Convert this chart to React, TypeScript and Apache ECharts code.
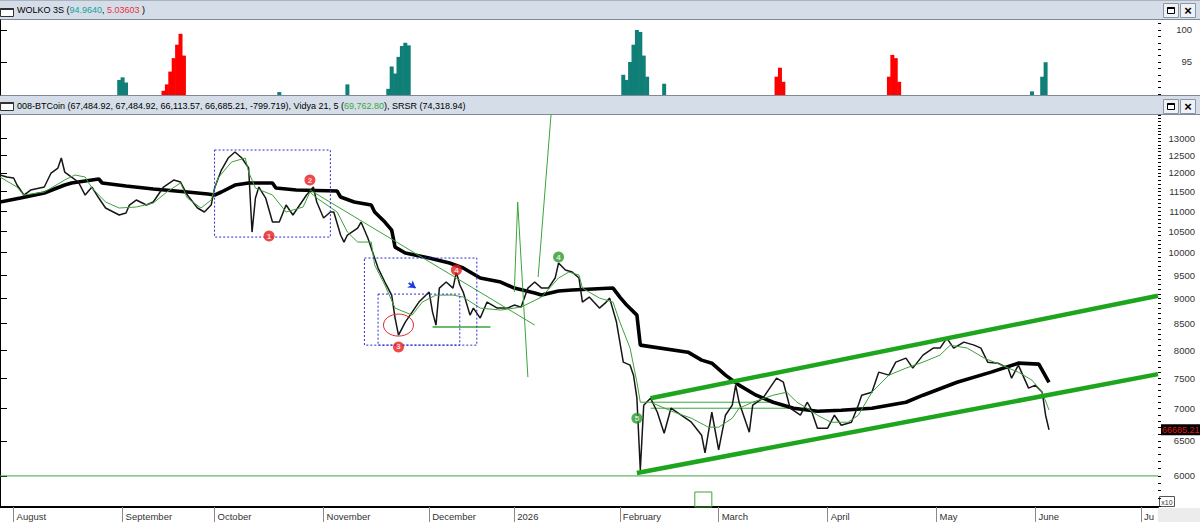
import React, { useEffect, useRef } from "react";
import * as echarts from "echarts";

// ---------- data (bar index = one trading bar) ----------
const X_MAX = 340;
const MONTH_LABELS = ["August", "September", "October", "November", "December", "2026", "February", "March", "April", "May", "June", "Ju"];
const MONTH_BARS = [4, 36, 63, 95, 126, 151, 182, 211, 243, 275, 304, 335];

const PRICE_TICKS = [6000, 6500, 7000, 7500, 8000, 8500, 9000, 9500, 10000, 10500, 11000, 11500, 12000, 12500, 13000];
const WOLKO_TICKS = [95, 100];

// close path [bar, price/10]
const PRICE: number[][] = [
  [0, 11945], [2, 11890], [4, 11863], [5, 11674], [7, 11410], [9, 11541], [13, 11621], [15, 11999], [17, 12137], [18, 12418],
  [19, 12026], [21, 11890], [23, 11755], [25, 11410], [27, 11621], [29, 11332], [31, 11076], [35, 10900], [37, 10950], [38, 11152],
  [40, 11280], [43, 11152], [45, 11229], [48, 11621], [51, 11809], [53, 11755], [55, 11410], [58, 11076], [60, 10975], [62, 11152],
  [63, 11594], [65, 12082], [67, 12418], [69, 12590], [71, 12418], [73, 12137], [74, 10483], [75, 11332], [76, 11621], [78, 11332],
  [80, 10726], [82, 10726], [84, 11152], [86, 10900], [88, 11152], [90, 11410], [92, 11621], [93, 11229], [95, 10825], [97, 10975],
  [98, 10975], [100, 10412], [101, 10246], [102, 10412], [105, 10580], [106, 10726], [108, 10340], [110, 9878], [111, 9654], [113, 9350],
  [115, 9075], [116, 8610], [117, 8281], [119, 8532], [121, 8729], [123, 8931], [126, 9138], [127, 8729], [128, 8473], [129, 9222],
  [131, 9350], [133, 9222], [134, 9566], [135, 9286], [136, 9138], [138, 8669], [139, 8809], [141, 8610], [143, 8931], [146, 8809],
  [149, 8809], [151, 8870], [153, 8829], [155, 9222], [157, 9350], [159, 9222], [161, 9222], [163, 9436], [164, 9766], [166, 9610],
  [168, 9566], [170, 9436], [171, 8931], [173, 9034], [176, 8809], [178, 8931], [179, 9013], [181, 8532], [182, 8149], [183, 7784],
  [185, 7731], [186, 7556], [187, 7168], [188, 6082], [189, 7054], [191, 7168], [193, 6941], [195, 6615], [197, 7005], [200, 6894],
  [203, 6784], [206, 6585], [207, 6324], [209, 6941], [211, 6368], [213, 6894], [215, 7054], [216, 7385], [217, 7102], [220, 6631],
  [221, 7054], [224, 7168], [228, 7504], [230, 7435], [232, 7005], [235, 6894], [237, 7102], [238, 7005], [240, 6692], [243, 6692],
  [245, 6894], [247, 6738], [250, 6784], [252, 7054], [253, 7217], [256, 7267], [258, 7608], [261, 7556], [263, 7784], [266, 7856],
  [268, 7678], [271, 7910], [274, 8038], [276, 8038], [278, 8224], [280, 8038], [283, 8149], [286, 8093], [288, 8038], [290, 7784],
  [293, 7766], [296, 7678], [297, 7504], [299, 7731], [302, 7334], [304, 7385], [306, 7267], [307, 6894], [308, 6668.5],
];

const VIDYA: number[][] = [
  [0, 11890], [5, 11621], [7, 11410], [13, 11489], [19, 11809], [22, 11945], [25, 11890], [27, 11594], [31, 11229], [35, 11076],
  [40, 11101], [45, 11203], [49, 11489], [53, 11728], [55, 11332], [59, 11076], [62, 11280], [64, 11863], [68, 12306], [72, 12418],
  [73, 12026], [75, 11594], [80, 11410], [84, 10975], [89, 11101], [91, 11489], [93, 11332], [99, 10975], [102, 10483], [105, 10246],
  [109, 10246], [110, 9721], [113, 9286], [116, 8809], [121, 8669], [124, 8931], [128, 9075], [133, 9075], [136, 9034], [141, 8809],
  [147, 8769], [153, 8829], [159, 9034], [164, 9436], [167, 9566], [170, 9501], [171, 9222], [176, 9013], [180, 8931], [182, 8532],
  [185, 8038], [187, 7435], [188, 7102], [191, 7102], [198, 6941], [203, 6847], [208, 6707], [211, 6707], [215, 6847], [217, 7005],
  [221, 7102], [227, 7217], [231, 7267], [234, 7102], [237, 7005], [240, 6894], [244, 6784], [249, 6784], [252, 6894], [256, 7267],
  [261, 7556], [266, 7678], [271, 7784], [276, 7910], [279, 8093], [284, 8038], [289, 7856], [294, 7731], [299, 7608], [303, 7470],
  [306, 7267], [308, 6976.28],
];

const SRSR: number[][] = [
  [0, 11229], [6, 11332], [13, 11462], [19, 11674], [21, 11728], [29, 11836], [30, 11728], [37, 11648], [45, 11568], [55, 11489],
  [61, 11436], [63, 11410], [65, 11489], [69, 11674], [73, 11728], [80, 11728], [81, 11594], [87, 11541], [99, 11515], [100, 11358],
  [104, 11229], [109, 11152], [110, 10975], [113, 10726], [115, 10531], [116, 10129], [119, 9992], [126, 9878], [132, 9766], [136, 9654],
  [141, 9436], [147, 9350], [151, 9222], [157, 9117], [159, 9075], [164, 9159], [168, 9180], [180, 9222], [182, 9034], [184, 8870],
  [187, 8669], [188, 8093], [202, 7964], [206, 7820], [209, 7766], [213, 7556], [217, 7385], [222, 7217], [227, 7102], [233, 7005],
  [240, 6957], [247, 6973], [256, 7005], [261, 7054], [266, 7102], [271, 7217], [281, 7435], [291, 7608], [299, 7766], [305, 7749],
  [308, 7431.89],
];

// WOLKO 3S histogram
const TEAL_BARS = [35, 36, 37, 82, 102, 114, 115, 116, 117, 118, 119, 120, 183, 184, 185, 186, 187, 188, 189, 190, 195, 303, 306, 307];
const TEAL_VALUES = [92.2, 92.6, 91.8, 90.3, 91.5, 90.8, 94.3, 93.2, 95.8, 97.5, 98.0, 97.6, 93.0, 92.2, 95.0, 97.7, 100.0, 99.7, 96.0, 92.7, 91.6, 90.4, 92.7, 94.964];
const RED_BARS = [48, 49, 50, 51, 52, 53, 54, 228, 229, 230, 261, 262, 263, 264];
const RED_VALUES = [90.5, 91.5, 93.5, 95.6, 97.7, 99.4, 96.0, 92.7, 94.1, 91.9, 92.7, 96.1, 95.6, 91.9];

// drawings
const BOXES = [[63, 12648, 97, 10364], [107, 9878, 140, 8093], [111, 9096, 135, 8093]];
const MARKER_LABELS = ["1", "2", "3", "4", "4", "5"];
const MARKER_BARS = [79, 91, 117, 134, 164, 187];
const MARKER_VALUES = [10388, 11809, 8059, 9610, 9901, 6847];
const MARKER_UP = [false, false, false, false, true, true];
const TREND_LINE = [[91, 11541], [157, 8473]];
const SPIKE_LINE_A = [[151, 9138], [152, 11229], [155, 7521]];
const SPIKE_LINE_B = [[158, 9458], [162, 14000]];
const CHANNEL_LOW = [[187, 6040], [340, 7573]];
const CHANNEL_HIGH = [[191, 7168], [340, 9060]];
const FLAT_A = [[191, 7102], [227, 7102]];
const FLAT_B = [[191, 7005], [235, 7005]];
const SUPPORT = [[127, 8434], [144, 8434]];
const BASE_LINE = [[0, 6000], [340, 6000]];
const ELLIPSE_CENTER = [117, 8473];
const ARROW = [[120, 9330], [122, 9222]];
const BOTTOM_BOX = [204, 5783, 209, 5588];

const LAST_BAR = 308;
const LAST_CLOSE = 66685.21;
const HEADER_TOP = ["WOLKO 3S (", "94.9640", ", ", "5.03603", " )"];
const HEADER_MAIN = ["008-BTCoin (67,484.92, 67,484.92, 66,113.57, 66,685.21, -799.719), Vidya 21, 5 (", "69,762.80", "), SRSR (74,318.94)"];

// ---------- helpers ----------
const L = (v: number) => Math.log10(v);
const Y_MIN = L(5588);
const Y_MAX = L(13703);
const FONT = "Liberation Sans";
const THIN_GREEN = "#3ba43b";

function lineSeries(pts: number[][], color: string, width: number, z = 3) {
  return {
    type: "line",
    xAxisIndex: 1,
    yAxisIndex: 2,
    data: pts.map(([b, v]) => [b, L(v)]),
    showSymbol: false,
    symbol: "none",
    lineStyle: { color, width },
    silent: true,
    z,
  };
}

function buttons(y: number) {
  return [
    { type: "rect", shape: { x: 1163.5, y: y + 0.5, width: 15, height: 14 }, style: { fill: "#eef2f6", stroke: "#8b96a1" } },
    { type: "rect", shape: { x: 1167.5, y: y + 4.5, width: 7, height: 6 }, style: { fill: "#fff", stroke: "#000", lineWidth: 1 } },
    { type: "line", shape: { x1: 1167.5, y1: y + 5, x2: 1174.5, y2: y + 5 }, style: { stroke: "#000", lineWidth: 2 } },
    { type: "rect", shape: { x: 1180.5, y: y + 0.5, width: 15, height: 14 }, style: { fill: "#eef2f6", stroke: "#8b96a1" } },
    { type: "text", x: 1188, y: y + 7.5, style: { text: "×", fill: "#000", font: `bold 13px ${FONT}`, align: "center", verticalAlign: "middle" } },
  ];
}

function headerIcon(y: number) {
  return [
    { type: "rect", shape: { x: 0.5, y: y + 0.5, width: 13, height: 8 }, style: { fill: "#fff", stroke: "#333" } },
    { type: "line", shape: { x1: 0.5, y1: y + 1, x2: 13.5, y2: y + 1 }, style: { stroke: "#333", lineWidth: 2 } },
  ];
}

function buildOption(): any {
  const minorMain: number[] = [];
  for (let v = 5600; v <= 13700; v += 100) minorMain.push(L(v));
  const minorTop: number[] = [];
  for (let v = 90; v <= 101; v += 1) minorTop.push(v);

  const axisLabelStyle = { fontSize: 9.5, color: "#333", fontFamily: FONT };

  return {
    animation: false,
    backgroundColor: "#ffffff",
    grid: [
      { left: 0, right: 42, top: 20, height: 75 },
      { left: 0, right: 42, top: 115, height: 392 },
    ],
    xAxis: [
      { gridIndex: 0, type: "value", min: 0, max: X_MAX, show: false, splitLine: { show: false } },
      {
        gridIndex: 1,
        type: "value",
        min: 0,
        max: X_MAX,
        axisLine: { show: true, onZero: false, lineStyle: { color: "#000", width: 2 } },
        axisTick: { show: true, customValues: MONTH_BARS, length: 15, lineStyle: { color: "#8a8a8a", width: 1 } },
        axisLabel: {
          ...axisLabelStyle,
          customValues: MONTH_BARS,
          formatter: (v: number) => {
            const i = MONTH_BARS.indexOf(Math.round(v));
            return i >= 0 ? MONTH_LABELS[i] : "";
          },
          align: "left",
          padding: [0, 0, 0, 3],
          margin: 4,
        },
        splitLine: { show: false },
      },
    ],
    yAxis: [
      {
        gridIndex: 0,
        type: "value",
        position: "right",
        min: 89.84,
        max: 101.56,
        axisLine: { show: true, lineStyle: { color: "#000" } },
        axisTick: { show: true, customValues: WOLKO_TICKS, length: 7, lineStyle: { color: "#000" } },
        axisLabel: { ...axisLabelStyle, customValues: WOLKO_TICKS, align: "right", margin: 34 },
        splitLine: { show: false },
      },
      {
        gridIndex: 0,
        type: "value",
        position: "right",
        min: 89.84,
        max: 101.56,
        axisLine: { show: false },
        axisTick: { show: true, customValues: minorTop, length: 3, lineStyle: { color: "#000" } },
        axisLabel: { show: false },
        splitLine: { show: false },
      },
      {
        gridIndex: 1,
        type: "value",
        position: "right",
        min: Y_MIN,
        max: Y_MAX,
        axisLine: { show: true, lineStyle: { color: "#000" } },
        axisTick: { show: true, customValues: PRICE_TICKS.map(L), length: 7, lineStyle: { color: "#000" } },
        axisLabel: {
          ...axisLabelStyle,
          customValues: PRICE_TICKS.map(L),
          formatter: (v: number) => String(Math.round(Math.pow(10, v))),
          align: "right",
          margin: 37,
        },
        splitLine: { show: false },
      },
      {
        gridIndex: 1,
        type: "value",
        position: "right",
        min: Y_MIN,
        max: Y_MAX,
        axisLine: { show: false },
        axisTick: { show: true, customValues: minorMain, length: 3, lineStyle: { color: "#000" } },
        axisLabel: { show: false },
        splitLine: { show: false },
      },
    ],
    series: [
      {
        type: "bar",
        xAxisIndex: 0,
        yAxisIndex: 0,
        data: TEAL_BARS.map((b, i) => [b, TEAL_VALUES[i]]),
        barWidth: 4,
        itemStyle: { color: "#0f7f77" },
        clip: true,
        silent: true,
      },
      {
        type: "bar",
        xAxisIndex: 0,
        yAxisIndex: 0,
        data: RED_BARS.map((b, i) => [b, RED_VALUES[i]]),
        barWidth: 4,
        barGap: "-100%",
        itemStyle: { color: "#ff0000" },
        clip: true,
        silent: true,
      },
      lineSeries(BASE_LINE, THIN_GREEN, 1),
      lineSeries(FLAT_A, THIN_GREEN, 1),
      lineSeries(FLAT_B, THIN_GREEN, 1),
      lineSeries(SRSR, "#000", 3.6, 4),
      lineSeries(PRICE, "#161616", 1.5, 5),
      lineSeries(VIDYA, "#3f9f3f", 1, 6),
      lineSeries(CHANNEL_LOW, "#1ea51e", 4.5, 7),
      lineSeries(CHANNEL_HIGH, "#1ea51e", 4.5, 7),
      lineSeries(TREND_LINE, THIN_GREEN, 1, 7),
      lineSeries(SPIKE_LINE_A, THIN_GREEN, 1, 7),
      lineSeries(SPIKE_LINE_B, THIN_GREEN, 1, 7),
      lineSeries(SUPPORT, THIN_GREEN, 1.5, 7),
      {
        type: "custom",
        xAxisIndex: 1,
        yAxisIndex: 2,
        silent: true,
        z: 8,
        encode: { x: [0, 2], y: [1, 3] },
        data: BOXES.map(([x0, v0, x1, v1]) => [x0, L(v0), x1, L(v1)]),
        renderItem: (_p: any, api: any) => {
          const a = api.coord([api.value(0), api.value(1)]);
          const b = api.coord([api.value(2), api.value(3)]);
          return {
            type: "rect",
            shape: { x: Math.min(a[0], b[0]), y: Math.min(a[1], b[1]), width: Math.abs(b[0] - a[0]), height: Math.abs(b[1] - a[1]) },
            style: { fill: "none", stroke: "#2b2bd6", lineWidth: 1, lineDash: [2, 2] },
          };
        },
      },
      {
        type: "custom",
        xAxisIndex: 1,
        yAxisIndex: 2,
        silent: true,
        z: 8,
        encode: { x: [0, 2], y: [1, 3] },
        data: [[BOTTOM_BOX[0], L(BOTTOM_BOX[1]), BOTTOM_BOX[2], L(BOTTOM_BOX[3])]],
        renderItem: (_p: any, api: any) => {
          const a = api.coord([api.value(0), api.value(1)]);
          const b = api.coord([api.value(2), api.value(3)]);
          return {
            type: "rect",
            shape: { x: Math.min(a[0], b[0]), y: Math.min(a[1], b[1]), width: Math.abs(b[0] - a[0]), height: Math.abs(b[1] - a[1]) },
            style: { fill: "none", stroke: "#3aa53a", lineWidth: 1 },
          };
        },
      },
      {
        type: "custom",
        xAxisIndex: 1,
        yAxisIndex: 2,
        silent: true,
        z: 8,
        data: [[ELLIPSE_CENTER[0], L(ELLIPSE_CENTER[1])]],
        renderItem: (_p: any, api: any) => {
          const c = api.coord([api.value(0), api.value(1)]);
          return { type: "ellipse", shape: { cx: c[0], cy: c[1], rx: 15, ry: 11 }, style: { fill: "none", stroke: "#e02828", lineWidth: 1 } };
        },
      },
      {
        type: "lines",
        coordinateSystem: "cartesian2d",
        xAxisIndex: 1,
        yAxisIndex: 2,
        silent: true,
        z: 9,
        symbol: ["none", "arrow"],
        symbolSize: 7,
        lineStyle: { color: "#1a3ae0", width: 2, opacity: 1 },
        data: [{ coords: ARROW.map(([b, v]) => [b, L(v)]) }],
      },
      {
        type: "scatter",
        xAxisIndex: 1,
        yAxisIndex: 2,
        silent: true,
        z: 10,
        symbol: "circle",
        symbolSize: 11,
        data: MARKER_LABELS.map((n, i) => ({
          name: n,
          value: [MARKER_BARS[i], L(MARKER_VALUES[i])],
          itemStyle: { color: MARKER_UP[i] ? "#2a9a2a" : "#e81c1c" },
        })),
        label: { show: true, position: "inside", formatter: "{b}", color: "#fff", fontSize: 8, fontWeight: "bold", fontFamily: FONT },
      },
      {
        type: "custom",
        xAxisIndex: 1,
        yAxisIndex: 2,
        silent: true,
        clip: false,
        z: 20,
        data: [[LAST_BAR, L(LAST_CLOSE / 10)]],
        renderItem: (p: any, api: any) => {
          const c = api.coord([api.value(0), api.value(1)]);
          const right = p.coordSys.x + p.coordSys.width;
          return {
            type: "group",
            children: [
              { type: "rect", shape: { x: right + 3, y: c[1] - 5.5, width: 42, height: 11 }, style: { fill: "#000" } },
              {
                type: "text",
                x: right + 4,
                y: c[1],
                style: { text: LAST_CLOSE.toFixed(2), fill: "#e01414", font: `9px ${FONT}`, verticalAlign: "middle", align: "left" },
              },
            ],
          };
        },
      },
    ],
    graphic: [
      { type: "rect", shape: { x: 0, y: 0, width: 1200, height: 20 }, style: { fill: "#d5dee8" }, silent: true },
      { type: "line", shape: { x1: 0, y1: 0.5, x2: 1200, y2: 0.5 }, style: { stroke: "#a9b3bd" } },
      { type: "line", shape: { x1: 0, y1: 19.5, x2: 1200, y2: 19.5 }, style: { stroke: "#7f8a96" } },
      { type: "rect", shape: { x: 0, y: 96, width: 1200, height: 19 }, style: { fill: "#d5dee8" }, silent: true },
      { type: "line", shape: { x1: 0, y1: 95.5, x2: 1200, y2: 95.5 }, style: { stroke: "#7f8a96" } },
      { type: "line", shape: { x1: 0, y1: 114.5, x2: 1200, y2: 114.5 }, style: { stroke: "#7f8a96" } },
      ...headerIcon(8),
      ...headerIcon(102),
      {
        type: "text",
        x: 17,
        y: 10,
        style: {
          text: `{k|${HEADER_TOP[0]}}{t|${HEADER_TOP[1]}}{k|${HEADER_TOP[2]}}{r|${HEADER_TOP[3]}}{k|${HEADER_TOP[4]}}`,
          verticalAlign: "middle",
          rich: {
            k: { fill: "#000", fontSize: 9, fontFamily: FONT },
            t: { fill: "#1a9e9a", fontSize: 9, fontFamily: FONT },
            r: { fill: "#e8323c", fontSize: 9, fontFamily: FONT },
          },
        },
      },
      {
        type: "text",
        x: 17,
        y: 106,
        style: {
          text: `{k|${HEADER_MAIN[0]}}{g|${HEADER_MAIN[1]}}{k|${HEADER_MAIN[2]}}`,
          verticalAlign: "middle",
          rich: {
            k: { fill: "#000", fontSize: 9, fontFamily: FONT },
            g: { fill: "#3aa83a", fontSize: 9, fontFamily: FONT },
          },
        },
      },
      ...buttons(3),
      ...buttons(99),
      { type: "rect", shape: { x: 1158, y: 508, width: 42, height: 14 }, style: { fill: "#ececec" }, silent: true },
      { type: "rect", shape: { x: 1159.5, y: 496.5, width: 15, height: 10 }, style: { fill: "#fff", stroke: "#555" } },
      { type: "text", x: 1167, y: 502, style: { text: "x10", fill: "#333", font: `7px ${FONT}`, align: "center", verticalAlign: "middle" } },
    ],
  };
}

export default function App() {
  const ref = useRef<HTMLDivElement>(null);
  useEffect(() => {
    const chart = echarts.init(ref.current as HTMLDivElement, null, { renderer: "svg" });
    chart.setOption(buildOption());
    return () => chart.dispose();
  }, []);
  return (
    <div
      ref={ref}
      style={{ position: "fixed", left: 0, top: 0, width: 1200, height: 522, background: "#fff" }}
    />
  );
}
